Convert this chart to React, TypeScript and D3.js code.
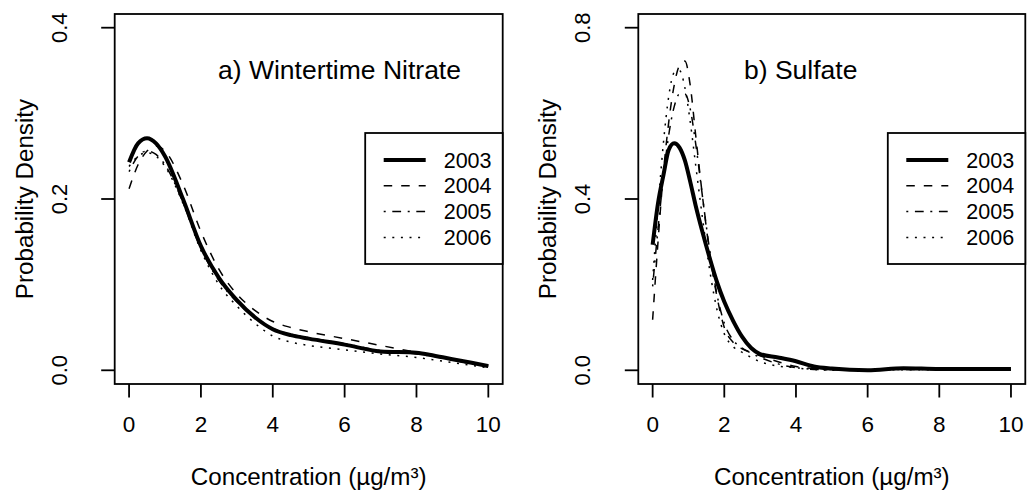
import { scaleLinear, line, curveMonotoneX } from "d3";

// Concentration grid for each panel (µg/m³)
const nitrateX = [0, 0.25, 0.5, 0.75, 1, 1.5, 2, 2.5, 3, 3.5, 4, 4.5, 5, 6, 7, 8, 8.5, 9, 9.5, 10];
const nitrate2003 = [0.243, 0.265, 0.271, 0.265, 0.25, 0.2, 0.145, 0.108, 0.082, 0.062, 0.048, 0.041, 0.037, 0.03, 0.022, 0.0205, 0.017, 0.013, 0.009, 0.005];
const nitrate2004 = [0.212, 0.24, 0.256, 0.262, 0.256, 0.217, 0.162, 0.118, 0.089, 0.07, 0.057, 0.05, 0.045, 0.037, 0.029, 0.021, 0.017, 0.013, 0.009, 0.005];
const nitrate2005 = [0.232, 0.25, 0.256, 0.252, 0.24, 0.196, 0.142, 0.105, 0.08, 0.062, 0.049, 0.042, 0.038, 0.031, 0.023, 0.019, 0.016, 0.012, 0.008, 0.005];
const nitrate2006 = [0.238, 0.25, 0.254, 0.25, 0.238, 0.195, 0.14, 0.1, 0.075, 0.055, 0.04, 0.033, 0.029, 0.024, 0.019, 0.015, 0.012, 0.009, 0.006, 0.003];

const sulfateX = [0, 0.15, 0.3, 0.45, 0.6, 0.75, 0.9, 1.05, 1.2, 1.4, 1.6, 1.8, 2, 2.25, 2.5, 2.75, 3, 3.5, 4, 4.5, 5, 6, 7, 8, 9, 10];
const sulfate2003 = [0.293, 0.39, 0.455, 0.515, 0.53, 0.52, 0.49, 0.44, 0.385, 0.32, 0.26, 0.205, 0.16, 0.115, 0.078, 0.052, 0.038, 0.03, 0.021, 0.009, 0.004, 0.0, 0.005, 0.003, 0.003, 0.003];
const sulfate2004 = [0.118, 0.3, 0.46, 0.58, 0.665, 0.712, 0.722, 0.665, 0.55, 0.4, 0.27, 0.17, 0.1, 0.065, 0.05, 0.042, 0.034, 0.02, 0.009, 0.004, 0.002, 0.001, 0.004, 0.003, 0.002, 0.002];
const sulfate2005 = [0.196, 0.33, 0.45, 0.55, 0.615, 0.645, 0.645, 0.61, 0.53, 0.4, 0.275, 0.175, 0.11, 0.07, 0.052, 0.04, 0.03, 0.015, 0.006, 0.002, 0.001, 0.0, 0.002, 0.002, 0.001, 0.001];
const sulfate2006 = [0.211, 0.38, 0.53, 0.64, 0.695, 0.7, 0.66, 0.58, 0.48, 0.35, 0.23, 0.14, 0.085, 0.055, 0.042, 0.03, 0.02, 0.01, 0.006, 0.002, 0.0, 0.001, 0.001, 0.001, 0.001, 0.001];

const years = ["2003", "2004", "2005", "2006"];
const xTicks = [0, 2, 4, 6, 8, 10];
const nitrateYTicks = [0, 0.2, 0.4];
const sulfateYTicks = [0, 0.4, 0.8];

// R style line types
const lineStyles = [
  { width: 4, dash: "none" },
  { width: 1.5, dash: "8.5 9" },
  { width: 1.5, dash: "2 6.6 8.8 6.6" },
  { width: 1.5, dash: "2 6.6" },
];

const FONT = "'Liberation Sans', Arial, Helvetica, sans-serif";
const top = 14;
const bottom = 384;

const Panel = ({ x0, x1, xs, series, yMax, yTicks, title, titleX }) => {
  const xScale = scaleLinear().domain([-0.4, 10.4]).range([x0, x1]);
  const pad = yMax * 0.04;
  const yScale = scaleLinear().domain([-pad, yMax + pad]).range([bottom, top]);
  const path = line().x((d) => xScale(d[0])).y((d) => yScale(d[1])).curve(curveMonotoneX);

  const legX0 = x1 - 137.5;
  const legY0 = 133;
  const rowY = (i) => 160 + i * 25.8;

  return (
    <g>
      {series.map((vals, i) => (
        <path
          key={years[i]}
          d={path(xs.map((x, j) => [x, vals[j]]))}
          fill="none"
          stroke="#000"
          strokeWidth={lineStyles[i].width}
          strokeDasharray={lineStyles[i].dash}
          strokeLinejoin="round"
        />
      ))}
      <rect x={x0} y={top} width={x1 - x0} height={bottom - top} fill="none" stroke="#000" strokeWidth={1.8} />

      {/* x axis */}
      {xTicks.map((t) => (
        <g key={t}>
          <line x1={xScale(t)} x2={xScale(t)} y1={bottom} y2={bottom + 13.5} stroke="#000" strokeWidth={1.8} />
          <text x={xScale(t)} y={432} textAnchor="middle" fontSize={22.5}>{t}</text>
        </g>
      ))}
      <text x={(x0 + x1) / 2} y={485} textAnchor="middle" fontSize={24.2}>Concentration (µg/m³)</text>

      {/* y axis */}
      {yTicks.map((t) => (
        <g key={t}>
          <line x1={x0} x2={x0 - 13.5} y1={yScale(t)} y2={yScale(t)} stroke="#000" strokeWidth={1.8} />
          <text transform={`translate(${x0 - 48},${yScale(t)}) rotate(-90)`} textAnchor="middle" fontSize={22}>
            {t.toFixed(1)}
          </text>
        </g>
      ))}
      <text transform={`translate(${x0 - 82},${(top + bottom) / 2}) rotate(-90)`} textAnchor="middle" fontSize={24.2}>
        Probability Density
      </text>

      <text x={titleX} y={79} fontSize={26.5}>{title}</text>

      {/* legend */}
      <rect x={legX0} y={legY0} width={x1 - legX0} height={131} fill="#fff" stroke="#000" strokeWidth={1.8} />
      {years.map((yr, i) => (
        <g key={yr}>
          <line
            x1={legX0 + 18.5}
            x2={legX0 + 60.5}
            y1={rowY(i)}
            y2={rowY(i)}
            stroke="#000"
            strokeWidth={lineStyles[i].width}
            strokeDasharray={lineStyles[i].dash}
          />
          <text x={legX0 + 78.5} y={rowY(i) + 7.5} fontSize={21.5}>{yr}</text>
        </g>
      ))}
    </g>
  );
};

export default function App() {
  return (
    <svg
      width={1027}
      height={491}
      style={{ position: "absolute", left: 0, top: 0, background: "#fff", fontFamily: FONT }}
    >
      <rect width={1027} height={491} fill="#fff" />
      <Panel
        x0={114.7}
        x1={502.7}
        xs={nitrateX}
        series={[nitrate2003, nitrate2004, nitrate2005, nitrate2006]}
        yMax={0.4}
        yTicks={nitrateYTicks}
        title="a) Wintertime Nitrate"
        titleX={218}
      />
      <Panel
        x0={638.3}
        x1={1025.3}
        xs={sulfateX}
        series={[sulfate2003, sulfate2004, sulfate2005, sulfate2006]}
        yMax={0.8}
        yTicks={sulfateYTicks}
        title="b) Sulfate"
        titleX={744}
      />
    </svg>
  );
}
